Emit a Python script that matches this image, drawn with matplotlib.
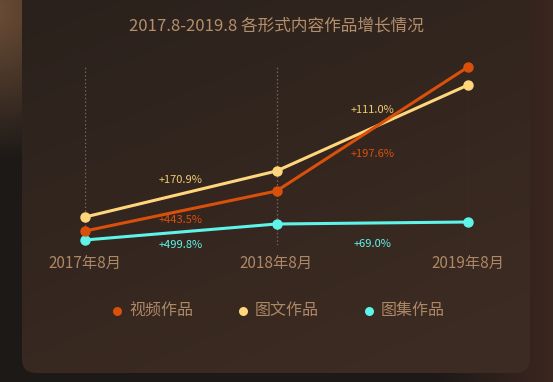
import numpy as np
import matplotlib.pyplot as plt
from matplotlib.patches import FancyBboxPatch
from matplotlib.colors import to_rgb

plt.rcParams['font.family'] = ['Noto Sans CJK SC', 'DejaVu Sans']

# ---- dados ----
periodos = ['2017年8月', '2018年8月', '2019年8月']
series = ['视频作品', '图文作品', '图集作品']
video = [14, 54, 178]
tuwen = [28, 74, 160]
tuji = [5, 21, 23]
cresc_video = ['+443.5%', '+197.6%']
cresc_tuwen = ['+170.9%', '+111.0%']
cresc_tuji = ['+499.8%', '+69.0%']

cores = ['#d9500b', '#ffd67c', '#5ff4e9']
cores_txt = ['#d9500b', '#f3cb72', '#5ff4e9']
cor_texto = '#ad8866'

W, H = 553, 382
fig = plt.figure(figsize=(W / 100, H / 100), dpi=100)

# ---- fundo ----
bg = fig.add_axes([0, 0, 1, 1])
bg.set_xlim(0, W)
bg.set_ylim(H, 0)
bg.axis('off')

yy, xx = np.mgrid[0:H, 0:W]
base = np.array(to_rgb('#1d1917'))
img = np.ones((H, W, 3)) * base
# brilho marrom no canto superior esquerdo
d = np.sqrt((xx + 10) ** 2 + (yy - 10) ** 2)
w = np.clip(1 - d / 150, 0, 1)[..., None]
img = img * (1 - w) + np.array(to_rgb('#6e4e37')) * w
# lado direito avermelhado
w2 = np.clip((xx - 430) / 123, 0, 1)[..., None]
img = img * (1 - w2) + np.array(to_rgb('#3b2620')) * w2
bg.imshow(img, extent=(0, W, H, 0), aspect='auto', zorder=0)

painel = FancyBboxPatch((22, -30), 508, 403, boxstyle='round,pad=0,rounding_size=14',
                        facecolor='none', edgecolor='none', zorder=1)
bg.add_patch(painel)
t = np.clip((xx / W) * 0.45 + (yy / H) * 0.75, 0, 1)[..., None]
c1 = np.array(to_rgb('#2a211c'))
c2 = np.array(to_rgb('#3c2b22'))
pimg = c1 * (1 - t) + c2 * t
im = bg.imshow(pimg, extent=(0, W, H, 0), aspect='auto', zorder=1)
im.set_clip_path(painel)

fig.text(276 / W, 1 - 26 / H, '2017.8-2019.8 各形式内容作品增长情况',
         ha='center', va='center', fontsize=12, color='#b58f6c')

# ---- grafico ----
ax = fig.add_axes([85 / W, 1 - 245 / H, 383 / W, 180 / H])
ax.patch.set_alpha(0)
for s in ax.spines.values():
    s.set_visible(False)
ax.set_xlim(0, 2)
ax.set_ylim(0, 180)
ax.set_yticks([])
ax.set_xticks(range(len(periodos)))
ax.set_xticklabels(periodos, fontsize=11, color=cor_texto)
ax.tick_params(axis='x', length=0, pad=7.5)

for i in range(len(periodos)):
    ax.axvline(i, color='#716760', lw=0.9, ls=(0, (1.2, 1.8)), zorder=1)

x = np.arange(len(periodos))
dados = [tuji, tuwen, video]
cs = [cores[2], cores[1], cores[0]]
for vals, c in zip(dados, cs):
    ax.plot(x, vals, color=c, lw=2.2, marker='o', ms=6.5, clip_on=False, zorder=3)

# rótulos de crescimento (deslocamento em pixels a partir do meio do segmento)
rotulos = [
    (video, cresc_video, cores_txt[0], [9, 25]),
    (tuwen, cresc_tuwen, cores_txt[1], [-14, -18]),
    (tuji, cresc_tuji, cores_txt[2], [13, 21]),
]
for vals, txts, c, offs in rotulos:
    for k in range(2):
        xm = k + 0.5
        ym = (vals[k] + vals[k + 1]) / 2
        ax.annotate(txts[k], (xm, ym), xytext=(0, -offs[k]), textcoords='offset pixels',
                    ha='center', va='center', fontsize=8, color=c, zorder=4)

# ---- legenda ----
for i, (nome, c) in enumerate(zip(series, cores)):
    x0 = 117 + i * 126
    bg.scatter([x0], [311], s=42, color=c, linewidths=0, zorder=5)
    bg.text(x0 + 12, 311, nome, ha='left', va='center', fontsize=11.5, color=cor_texto, zorder=5)

fig.savefig('out.png', dpi=100)
